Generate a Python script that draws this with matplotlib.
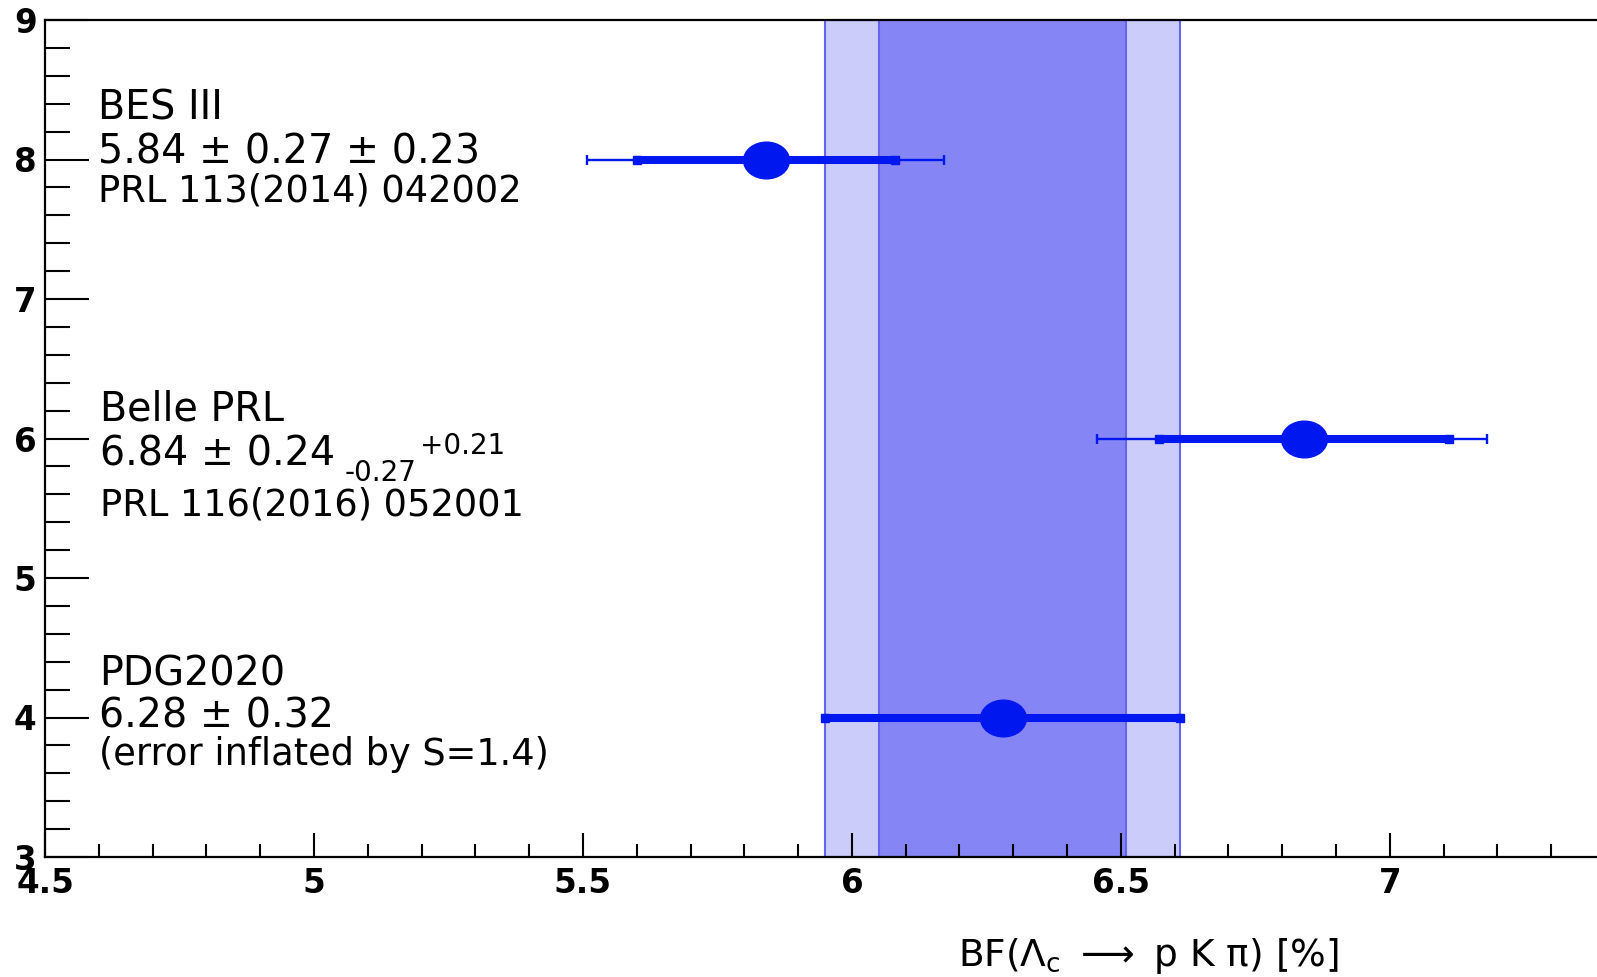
import numpy as np
import matplotlib
matplotlib.use("Agg")
import matplotlib.pyplot as plt
from matplotlib.path import Path
from matplotlib.markers import MarkerStyle
from matplotlib.ticker import MultipleLocator

# measurements (value, row, thick err lo/hi, thin err lo/hi)
names = ["BES III", "Belle PRL", "PDG2020"]
values = [5.84, 6.84, 6.28]
rows = [8, 6, 4]
thick_lo = [0.24, 0.27, 0.33]
thick_hi = [0.24, 0.27, 0.33]
thin_lo = [0.333, 0.385, 0.0]
thin_hi = [0.331, 0.34, 0.0]

# PDG band
pdg_val = 6.28
band_wide = 0.33
band_narrow = 0.23

line2 = ["5.84 \u00b1 0.27 \u00b1 0.23", "6.84 \u00b1 0.24", "6.28 \u00b1 0.32"]
line3 = ["PRL 113(2014) 042002", "PRL 116(2016) 052001", "(error inflated by S=1.4)"]
belle_sub = "-0.27"
belle_sup = "+0.21"

xlim = (4.5, 7.4)
ylim = (3, 9)

W, H = 1597, 977
def fpos(px, py):
    return px / W, 1 - py / H

blue = "#0018f0"
light = "#ccccfa"
dark = "#8585f5"
edge = "#6464ee"

fig = plt.figure(figsize=(W / 100, H / 100), dpi=100)
ax = fig.add_axes([45 / W, 1 - 857 / H, 1560 / W, (857 - 20) / H])
ax.set_xlim(*xlim)
ax.set_ylim(*ylim)

# bands
ax.axvspan(pdg_val - band_wide, pdg_val + band_wide, color=light, ec=edge, lw=1.5, zorder=0.5)
ax.axvspan(pdg_val - band_narrow, pdg_val + band_narrow, color=dark, ec=edge, lw=1.5, zorder=0.6)

# elliptical marker
circ = Path.unit_circle()
ell = Path(circ.vertices * np.array([1.0, 0.8]), circ.codes)
mk = MarkerStyle(ell)

v = np.array(values)
r = np.array(rows)
tl = np.array(thick_lo)
th = np.array(thick_hi)
nl = np.array(thin_lo)
nh = np.array(thin_hi)

has_thin = (nl + nh) > 0
ax.errorbar(v[has_thin], r[has_thin], xerr=[nl[has_thin], nh[has_thin]], fmt="none",
            ecolor=blue, elinewidth=1.7, capsize=3.4, capthick=1.7, zorder=3)
ax.errorbar(v, r, xerr=[tl, th], fmt="none", ecolor=blue, elinewidth=5.8, capsize=0, zorder=4)
ax.plot(v - tl, r, "s", color=blue, ms=6.3, zorder=4)
ax.plot(v + th, r, "s", color=blue, ms=6.3, zorder=4)
ax.plot(v, r, linestyle="none", marker=mk, ms=33, color=blue, zorder=5)

# ticks
ax.xaxis.set_major_locator(MultipleLocator(0.5))
ax.xaxis.set_minor_locator(MultipleLocator(0.1))
ax.yaxis.set_major_locator(MultipleLocator(1))
ax.yaxis.set_minor_locator(MultipleLocator(0.2))
ax.tick_params(axis="both", which="both", direction="in", top=False, right=False, width=1.5, color="black")
ax.tick_params(axis="x", which="major", length=17, pad=7.5)
ax.tick_params(axis="x", which="minor", length=9.5)
ax.tick_params(axis="y", which="major", length=32, pad=6)
ax.tick_params(axis="y", which="minor", length=18)
ax.xaxis.set_major_formatter(matplotlib.ticker.FuncFormatter(lambda x, p: f"{x:g}"))
for lab in ax.get_xticklabels() + ax.get_yticklabels():
    lab.set_fontsize(23.5)
    lab.set_fontweight("bold")
for s in ax.spines.values():
    s.set_linewidth(1.6)

# text blocks
x_left = [98, 100, 99]
base1 = [120, 420, 685]
base2 = [163, 466, 727]
base3 = [201, 515, 765]
for i in range(3):
    fig.text(*fpos(x_left[i], base1[i]), names[i], fontsize=28.5, va="baseline", ha="left")
    t2 = fig.text(*fpos(x_left[i], base2[i]), line2[i], fontsize=28.5, va="baseline", ha="left")
    fig.text(*fpos(x_left[i], base3[i]), line3[i], fontsize=26.5, va="baseline", ha="left")
    if i == 1:
        sub = ax.annotate(belle_sub, xy=(1, 0), xycoords=t2, xytext=(10, -6),
                          textcoords="offset pixels", fontsize=20, va="baseline", ha="left")
        ax.annotate(belle_sup, xy=(1, 0), xycoords=sub, xytext=(3, 33),
                    textcoords="offset pixels", fontsize=20, va="baseline", ha="left")

fig.text(*fpos(1339, 966), r"BF($\mathregular{\Lambda_c}$ $\longrightarrow$ p K π) [%]",
         fontsize=27, ha="right", va="baseline")

fig.savefig("out.png", dpi=100)
